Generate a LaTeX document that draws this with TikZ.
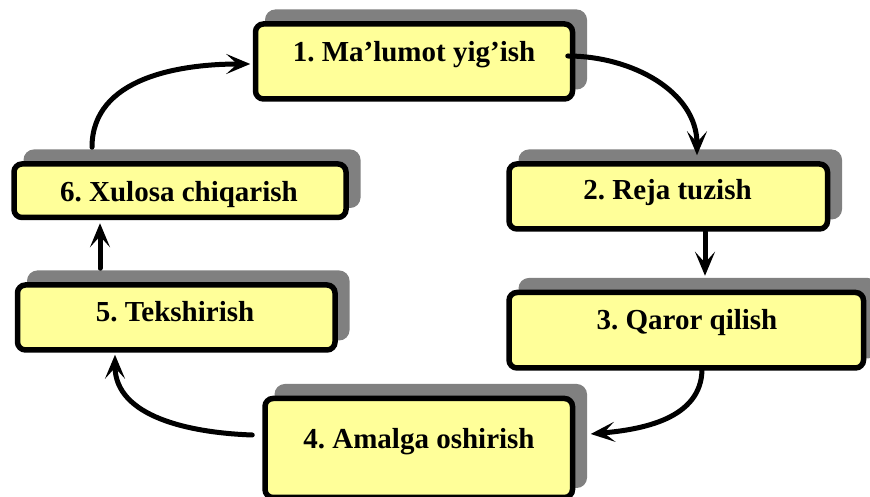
\documentclass[tikz,border=0pt]{standalone}
\usepackage{fontspec}
\setmainfont{Liberation Serif}
\frenchspacing
\usetikzlibrary{arrows.meta,shadows,calc}
\definecolor{boxfill}{HTML}{FFFF99}
\definecolor{shadowgray}{HTML}{808080}
\begin{document}
\begin{tikzpicture}[x=1pt,y=1pt,
  stepbox/.style={draw=black, line width=5.5pt, fill=boxfill, rounded corners=8pt,
    inner sep=0pt,
    drop shadow={shadow xshift=12pt, shadow yshift=12pt, fill=shadowgray, draw=shadowgray, line width=5pt, opacity=1}},
  lbl/.style={anchor=base, inner sep=0pt, font=\fontsize{29}{31}\selectfont\bfseries},
  arr/.style={line width=5pt, line cap=round, -{Stealth[length=24pt,width=20pt,inset=11pt]}}]
\useasboundingbox (0,0) rectangle (870,497);
% boxes
\node[stepbox, minimum width=317pt, minimum height=75pt] (n1) at (414,435.5) {};
\node[stepbox, minimum width=318.5pt, minimum height=65pt] (n2) at (668.25,300.5) {};
\node[stepbox, minimum width=354.5pt, minimum height=75.5pt] (n3) at (686.25,166.75) {};
\node[stepbox, minimum width=307.5pt, minimum height=99pt] (n4) at (418.75,49) {};
\node[stepbox, minimum width=317.5pt, minimum height=65pt] (n5) at (176.25,179.5) {};
\node[stepbox, minimum width=332pt, minimum height=53.5pt] (n6) at (180,306.25) {};
% labels
\node[lbl] (t1) at (414,435) {1. Ma’lumot yig’ish};
\node[lbl] (t2) at (667.5,297) {2. Reja tuzish};
\node[lbl] (t3) at (687,167) {3. Qaror qilish};
\node[lbl] (t4) at (419,48.7) {4. Amalga oshirish};
\node[lbl] (t5) at (175,175.3) {5. Tekshirish};
\node[lbl] (t6) at (179,295.3) {6. Xulosa chiqarish};
% connectors
\draw[arr] ([xshift=-7.5pt,yshift=5.5pt]n1.east) to[out=0,in=90] ([xshift=28.75pt,yshift=6pt]n2.north);
\draw[arr] ([xshift=36.75pt]n2.south) -- ([xshift=18.75pt,yshift=14pt]n3.north);
\draw[arr] ([xshift=15.75pt,yshift=2pt]n3.south) to[out=-90,in=5] ([xshift=15.5pt,yshift=14pt]n4.east);
\draw[arr] ([xshift=-10pt,yshift=13pt]n4.west) to[out=178,in=-90] ([xshift=-61.25pt,yshift=-2pt]n5.south);
\draw[arr] ([xshift=-76.25pt,yshift=14pt]n5.north) -- ([xshift=-80pt,yshift=-3pt]n6.south);
\draw[arr] ([xshift=-88pt,yshift=14pt]n6.north) to[out=90,in=180] ([xshift=-2.5pt,yshift=-2.5pt]n1.west);
\end{tikzpicture}
\end{document}
